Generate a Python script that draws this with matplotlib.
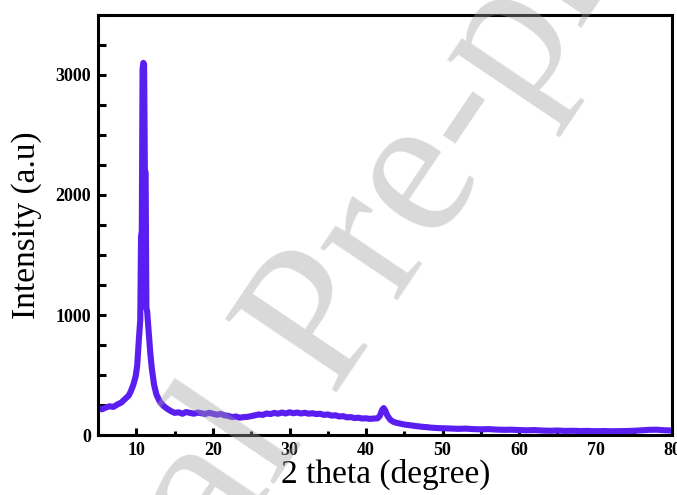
import numpy as np
import matplotlib
matplotlib.use('Agg')
import matplotlib.pyplot as plt
from matplotlib.ticker import MultipleLocator

# XRD pattern
two_theta = [5.0, 5.5, 6.0, 6.5, 7.0, 7.5, 8.0, 8.5, 9.0, 9.3, 9.6, 9.9, 10.1, 10.3, 10.5,
             10.6, 10.7, 10.8, 10.9, 11.0, 11.1, 11.2, 11.3, 11.4, 11.6, 11.8, 12.0, 12.3,
             12.6, 13.0, 13.5, 14.0, 14.5, 15.0, 15.5, 16.0, 16.5, 17.0, 17.5, 18.0, 18.5,
             19.0, 19.5, 20.0, 20.5, 21.0, 21.5, 22.0, 22.5, 23.0, 23.5, 24.0, 24.5, 25.0,
             25.5, 26.0, 26.5, 27.0, 27.5, 28.0, 28.5, 29.0, 29.5, 30.0, 30.5, 31.0, 31.5,
             32.0, 32.5, 33.0, 33.5, 34.0, 34.5, 35.0, 35.5, 36.0, 36.5, 37.0, 37.5, 38.0,
             38.5, 39.0, 39.5, 40.0, 40.5, 41.0, 41.5, 41.8, 42.1, 42.3, 42.5, 42.8, 43.2,
             43.6, 44.0, 44.5, 45.0, 45.5, 46.0, 46.5, 47.0, 47.5, 48.0, 48.5, 49.0, 49.5,
             50.0, 51.0, 52.0, 53.0, 54.0, 55.0, 56.0, 57.0, 58.0, 59.0, 60.0, 61.0, 62.0,
             63.0, 64.0, 65.0, 66.0, 67.0, 68.0, 69.0, 70.0, 71.0, 72.0, 73.0, 74.0, 75.0,
             76.0, 77.0, 78.0, 79.0, 80.0]
intensity = [225, 215, 230, 240, 235, 255, 270, 300, 330, 370, 420, 490, 580, 780, 960,
             1650, 1700, 3050, 3100, 3090, 2200, 2190, 1060, 1030, 860, 690, 560, 420,
             340, 285, 245, 220, 200, 185, 190, 178, 192, 185, 178, 188, 182,
             176, 186, 178, 170, 176, 165, 160, 150, 155, 145, 150, 152, 158,
             165, 172, 168, 180, 175, 185, 178, 188, 180, 190, 182, 188, 180,
             186, 178, 182, 175, 178, 168, 172, 162, 165, 155, 158, 148, 150,
             142, 145, 138, 140, 135, 138, 140, 160, 210, 225, 205, 160, 125,
             110, 102, 95, 88, 84, 80, 75, 72, 68, 66, 62, 60, 58,
             57, 55, 52, 54, 50, 48, 50, 46, 44, 45, 42, 40, 42,
             38, 36, 38, 35, 36, 34, 35, 32, 34, 32, 33, 34, 36,
             40, 44, 45, 40, 38]

x_ticks = [10, 20, 30, 40, 50, 60, 70, 80]
y_ticks = [0, 1000, 2000, 3000]

plt.rcParams['font.family'] = ['Liberation Serif', 'DejaVu Serif']

fig = plt.figure(figsize=(6.77, 4.95), dpi=100)
ax = fig.add_axes([0.145, 0.121, 0.848, 0.849])

ax.plot(two_theta, intensity, color='#5a1ef0', lw=4.4, solid_joinstyle='round', zorder=2)

ax.set_xlim(5, 80)
ax.set_ylim(0, 3500)
ax.set_xticks(x_ticks)
ax.set_yticks(y_ticks)
ax.xaxis.set_minor_locator(MultipleLocator(5))
ax.yaxis.set_minor_locator(MultipleLocator(250))
ax.tick_params(which='both', direction='in', top=False, right=False, width=2.2)
ax.tick_params(axis='y', which='both', length=6)
ax.tick_params(axis='x', which='major', length=5)
ax.tick_params(axis='x', which='minor', length=3)
ax.tick_params(labelsize=13, pad=5)
for lab in ax.get_xticklabels() + ax.get_yticklabels():
    lab.set_fontweight('bold')
for sp in ax.spines.values():
    sp.set_linewidth(2.2)

ax.set_xlabel('2 theta (degree)', fontsize=24, labelpad=0)
ax.set_ylabel('Intensity (a.u)', fontsize=24, labelpad=10)

# journal watermark
fig.text(0.545, 0.305, 'Journal Pre-proof', fontsize=147, color='#a0a0a0', alpha=0.4,
         rotation=56, rotation_mode='anchor', ha='center', va='baseline', zorder=5)

fig.savefig('out.png', dpi=100)
